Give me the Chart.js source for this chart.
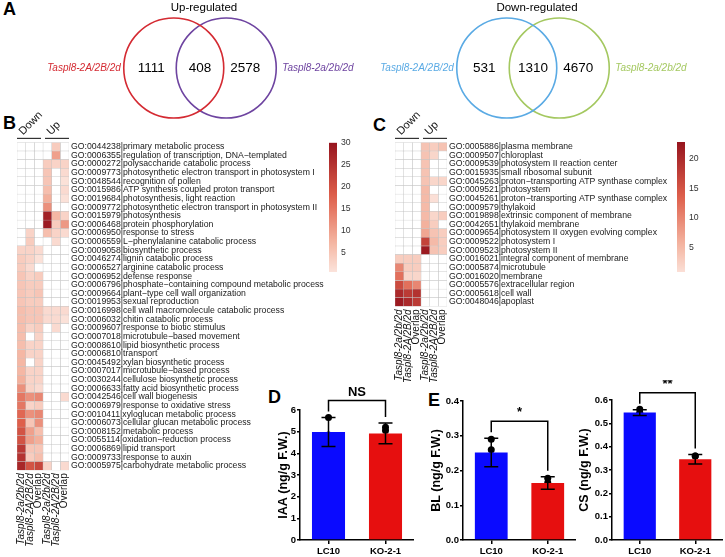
<!DOCTYPE html>
<html>
<head>
<meta charset="utf-8">
<script src="https://cdn.jsdelivr.net/npm/chart.js@4.4.1/dist/chart.umd.min.js"></script>
<style>
html, body { margin: 0; padding: 0; background: #fff; overflow: hidden; width: 725px; height: 557px; }
canvas { position: absolute; }
.lbl { position: absolute; font: bold 18px "Liberation Sans", Arial, sans-serif; line-height: 1; color: #000; }
</style>
</head>
<body>
<div class="lbl" style="left:3px;top:0px">A</div>
<div class="lbl" style="left:3px;top:114px">B</div>
<div class="lbl" style="left:373px;top:116px">C</div>
<div class="lbl" style="left:268px;top:388px">D</div>
<div class="lbl" style="left:428px;top:391px">E</div>

<canvas id="vennUp" style="left:0px;top:0px" width="400" height="136"></canvas>
<canvas id="vennDown" style="left:333px;top:0px" width="400" height="136"></canvas>
<canvas id="heatB" style="left:0px;top:110px" width="330" height="447"></canvas>
<canvas id="barB" style="left:329px;top:132px" width="30" height="150"></canvas>
<canvas id="heatC" style="left:380px;top:110px" width="295" height="280"></canvas>
<canvas id="barC" style="left:677px;top:132px" width="40" height="150"></canvas>
<canvas id="chartIaa" style="left:269px;top:380px" width="145" height="177"></canvas>
<canvas id="chartBl" style="left:422px;top:380px" width="154" height="177"></canvas>
<canvas id="chartCs" style="left:570px;top:380px" width="153" height="177"></canvas>

<script>
// --- Venn (A) ---
const upCounts = [1111, 408, 2578];
const downCounts = [531, 1310, 4670];
const vennNames = ['Taspl8-2A/2B/2d', 'Taspl8-2a/2b/2d'];

// --- heatmaps (B, C) ---
const colLabels = ['Taspl8-2a/2b/2d', 'Taspl8-2A/2B/2d', 'Overlap', 'Taspl8-2a/2b/2d', 'Taspl8-2A/2B/2d', 'Overlap'];
const groupNames = ['Down', 'Up'];

const bpTerms = [
  'GO:0044238|primary metabolic process',
  'GO:0006355|regulation of transcription, DNA\u2212templated',
  'GO:0000272|polysaccharide catabolic process',
  'GO:0009773|photosynthetic electron transport in photosystem I',
  'GO:0048544|recognition of pollen',
  'GO:0015986|ATP synthesis coupled proton transport',
  'GO:0019684|photosynthesis, light reaction',
  'GO:0009772|photosynthetic electron transport in photosystem II',
  'GO:0015979|photosynthesis',
  'GO:0006468|protein phosphorylation',
  'GO:0006950|response to stress',
  'GO:0006559|L\u2212phenylalanine catabolic process',
  'GO:0009058|biosynthetic process',
  'GO:0046274|lignin catabolic process',
  'GO:0006527|arginine catabolic process',
  'GO:0006952|defense response',
  'GO:0006796|phosphate\u2212containing compound metabolic process',
  'GO:0009664|plant\u2212type cell wall organization',
  'GO:0019953|sexual reproduction',
  'GO:0016998|cell wall macromolecule catabolic process',
  'GO:0006032|chitin catabolic process',
  'GO:0009607|response to biotic stimulus',
  'GO:0007018|microtubule\u2212based movement',
  'GO:0008610|lipid biosynthetic process',
  'GO:0006810|transport',
  'GO:0045492|xylan biosynthetic process',
  'GO:0007017|microtubule\u2212based process',
  'GO:0030244|cellulose biosynthetic process',
  'GO:0006633|fatty acid biosynthetic process',
  'GO:0042546|cell wall biogenesis',
  'GO:0006979|response to oxidative stress',
  'GO:0010411|xyloglucan metabolic process',
  'GO:0006073|cellular glucan metabolic process',
  'GO:0008152|metabolic process',
  'GO:0055114|oxidation\u2212reduction process',
  'GO:0006869|lipid transport',
  'GO:0009733|response to auxin',
  'GO:0005975|carbohydrate metabolic process'
];
// columns follow colLabels, 0 = not enriched (white)
const bpValues = [
  [0, 0, 0, 0, 4, 0], [0, 0, 0, 0, 10, 0], [0, 0, 0, 4, 3, 3], [0, 0, 0, 5, 0, 2],
  [0, 0, 0, 5, 0, 1], [0, 0, 0, 6, 0, 2], [0, 0, 0, 8, 0, 1], [0, 0, 0, 12, 0, 0],
  [0, 0, 0, 28, 7, 3], [0, 0, 0, 29, 4, 11], [0, 3, 0, 6, 3, 2], [0, 4, 0, 0, 2, 0],
  [3, 3, 2, 0, 0, 0], [4, 3, 1, 0, 0, 0], [4, 2, 0, 0, 0, 0], [5, 3, 4, 0, 0, 0],
  [5, 4, 4, 0, 0, 0], [5, 4, 5, 0, 0, 0], [5, 4, 4, 0, 0, 0], [6, 5, 5, 2, 2, 2],
  [6, 5, 5, 2, 2, 1], [6, 3, 4, 0, 2, 0], [6, 0, 3, 0, 0, 0], [6, 3, 3, 0, 0, 0],
  [7, 3, 3, 0, 0, 0], [7, 0, 3, 0, 0, 0], [7, 3, 3, 0, 0, 0], [8, 3, 3, 0, 0, 0],
  [12, 3, 2, 0, 0, 0], [15, 12, 13, 0, 0, 2], [15, 3, 4, 0, 0, 0], [17, 12, 13, 0, 0, 0],
  [18, 5, 12, 0, 0, 0], [20, 10, 6, 0, 0, 0], [20, 10, 8, 0, 0, 0], [24, 5, 5, 0, 0, 0],
  [25, 4, 6, 0, 0, 0], [27, 20, 22, 3, 0, 2]
];
const bpTicks = [5, 10, 15, 20, 25, 30];
const bpRange = [0.7, 30];

const ccTerms = [
  'GO:0005886|plasma membrane',
  'GO:0009507|chloroplast',
  'GO:0009539|photosystem II reaction center',
  'GO:0015935|small ribosomal subunit',
  'GO:0045263|proton\u2212transporting ATP synthase complex',
  'GO:0009521|photosystem',
  'GO:0045261|proton\u2212transporting ATP synthase complex',
  'GO:0009579|thylakoid',
  'GO:0019898|extrinsic component of membrane',
  'GO:0042651|thylakoid membrane',
  'GO:0009654|photosystem II oxygen evolving complex',
  'GO:0009522|photosystem I',
  'GO:0009523|photosystem II',
  'GO:0016021|integral component of membrane',
  'GO:0005874|microtubule',
  'GO:0016020|membrane',
  'GO:0005576|extracellular region',
  'GO:0005618|cell wall',
  'GO:0048046|apoplast'
];
const ccValues = [
  [0, 0, 0, 4, 3, 4], [0, 0, 0, 4, 2, 0], [0, 0, 0, 4, 0, 0], [0, 0, 0, 4, 0, 0],
  [0, 0, 0, 4, 2, 2], [0, 0, 0, 5, 0, 0], [0, 0, 0, 5, 1, 0], [0, 0, 0, 5, 0, 0],
  [0, 0, 0, 5, 2, 3], [0, 0, 0, 6, 3, 0], [0, 0, 0, 7, 4, 3], [0, 0, 0, 17, 5, 3],
  [0, 0, 0, 22, 4, 3], [3, 3, 3, 0, 0, 0], [10, 3, 3, 0, 0, 0], [12, 2, 2, 0, 0, 0],
  [16, 12, 10, 0, 0, 0], [20, 18, 19, 0, 0, 0], [22, 20, 18, 0, 0, 0]
];
const ccTicks = [5, 10, 15, 20];
const ccRange = [1, 22.7];

// --- hormone bars (D, E) ---
const genotypes = ['LC10', 'KO-2-1'];
const iaaMean = [4.98, 4.92];
const iaaSd = [0.67, 0.48];
const iaaPoints = [[5.65, 4.85, 4.35], [5.2, 5.05, 4.45]];
const blMean = [0.252, 0.164];
const blSd = [0.041, 0.018];
const blPoints = [[0.29, 0.26, 0.21], [0.178, 0.165, 0.155]];
const csMean = [0.546, 0.346];
const csSd = [0.012, 0.02];
const csPoints = [[0.56, 0.545, 0.54], [0.36, 0.36, 0.325]];

const FONT = '"Liberation Sans", Arial, Helvetica, sans-serif';
Chart.defaults.font.family = FONT;
Chart.defaults.animation = false;
Chart.defaults.layout.autoPadding = false;
Chart.defaults.plugins.legend.display = false;
Chart.defaults.plugins.tooltip.enabled = false;

// kleuren voor de heatmap: licht roze -> donker rood
const heatStops = [
  [0, [252, 232, 225]],
  [0.25, [244, 180, 160]],
  [0.6, [222, 95, 75]],
  [1, [150, 20, 30]]
];
function heatColor(v, vmax) {
  if (!v) return '#ffffff';
  const t = Math.min(v / vmax, 1);
  let i = 0;
  while (i < heatStops.length - 2 && t > heatStops[i + 1][0]) i++;
  const [t0, c0] = heatStops[i], [t1, c1] = heatStops[i + 1];
  const f = (t - t0) / (t1 - t0);
  const c = c0.map((a, k) => Math.round(a + (c1[k] - a) * f));
  return `rgb(${c[0]},${c[1]},${c[2]})`;
}

// A: twee cirkels per venn
function vennChart(id, title, counts, colors) {
  const r = 50;
  new Chart(document.getElementById(id), {
    type: 'scatter',
    data: {
      datasets: colors.map((c, i) => ({
        data: [{ x: i - 0.5, y: 0 }],
        pointRadius: r, pointHoverRadius: r,
        borderColor: c, borderWidth: 1.6,
        backgroundColor: 'rgba(0,0,0,0)',
        clip: false
      }))
    },
    options: {
      responsive: false, events: [],
      layout: { padding: 0, autoPadding: false },
      scales: {
        x: { display: false, min: -3.81, max: 3.81 },
        y: { display: false, min: -1, max: 1 }
      }
    },
    plugins: [{
      id: 'vennText',
      afterDatasetsDraw(chart) {
        const { ctx, scales: { x, y } } = chart;
        const xl = x.getPixelForValue(-0.5), xr = x.getPixelForValue(0.5), cy = y.getPixelForValue(0);
        ctx.save();
        ctx.textBaseline = 'middle';
        ctx.textAlign = 'center';
        ctx.fillStyle = '#000';
        ctx.font = `11.5px ${FONT}`;
        ctx.fillText(title, (xl + xr) / 2 + 4, 8);
        ctx.font = `13.5px ${FONT}`;
        ctx.fillText(counts[0], xl - 0.45 * r, cy);
        ctx.fillText(counts[1], (xl + xr) / 2, cy);
        ctx.fillText(counts[2], xr + 0.38 * r, cy);
        ctx.font = `italic 10px ${FONT}`;
        ctx.fillStyle = colors[0];
        ctx.textAlign = 'right';
        ctx.fillText(vennNames[0], xl - r - 3, cy);
        ctx.fillStyle = colors[1];
        ctx.textAlign = 'left';
        ctx.fillText(vennNames[1], xr + r + 6, cy);
        ctx.restore();
      }
    }]
  });
}

// Down / Up kopjes boven de heatmap
const groupHeader = {
  id: 'groupHeader',
  afterDraw(chart) {
    const { ctx, chartArea, scales: { x } } = chart;
    const y = chartArea.top - 4;
    ctx.save();
    ctx.strokeStyle = '#333';
    ctx.fillStyle = '#111';
    ctx.lineWidth = 1.2;
    ctx.font = `11px ${FONT}`;
    groupNames.forEach((name, g) => {
      const x0 = x.getPixelForValue(g * 3) + (g ? 2 : 0);
      const x1 = x.getPixelForValue(g * 3 + 3) - (g ? 0 : 2);
      ctx.beginPath();
      ctx.moveTo(x0, y);
      ctx.lineTo(x1, y);
      ctx.stroke();
      ctx.save();
      ctx.translate(x0 + 6, y - 3);
      ctx.rotate(-Math.PI / 4);
      ctx.fillText(name, 0, 0);
      ctx.restore();
    });
    ctx.restore();
  }
};

function heatmapChart(id, terms, values, vmax, padLeft, yWidth, xHeight) {
  new Chart(document.getElementById(id), {
    type: 'bar',
    data: {
      labels: terms,
      datasets: colLabels.map((_, c) => ({
        data: terms.map(() => [c, c + 1]),
        backgroundColor: values.map(row => heatColor(row[c], vmax)),
        borderColor: '#c4c4c4',
        borderWidth: 0.5,
        borderSkipped: false,
        barPercentage: 1,
        categoryPercentage: 1,
        grouped: false
      }))
    },
    options: {
      indexAxis: 'y', responsive: false, events: [],
      layout: { padding: { left: padLeft, top: 32.4 } },
      scales: {
        x: {
          type: 'linear', min: 0, max: 6,
          grid: { display: false, drawTicks: false },
          border: { display: false },
          afterBuildTicks: s => { s.ticks = colLabels.map((_, i) => ({ value: i + 0.5 })); },
          afterFit: s => { s.height = xHeight; },
          ticks: {
            autoSkip: false, minRotation: 90, maxRotation: 90, padding: 3, color: '#111',
            callback: (v, i) => colLabels[i],
            font: ctx => ({ family: FONT, size: 10, style: ctx.index % 3 === 2 ? 'normal' : 'italic' })
          }
        },
        y: {
          position: 'right',
          grid: { display: false, drawTicks: false },
          border: { display: false },
          afterFit: s => { s.width = yWidth; },
          ticks: { autoSkip: false, padding: 2, color: '#1a1a1a', font: { size: 8.7 } }
        }
      }
    },
    plugins: [groupHeader]
  });
}

function colorbarChart(id, range, ticks, padTop, padBottom, axisWidth) {
  const [vmin, vmax] = range;
  new Chart(document.getElementById(id), {
    type: 'bar',
    data: {
      labels: [''],
      datasets: [{
        data: [[vmin, vmax]],
        barPercentage: 1, categoryPercentage: 1, borderWidth: 0,
        backgroundColor: ctx => {
          const chart = ctx.chart, ys = chart.scales.y;
          if (!chart.chartArea) return '#fff';
          const g = chart.ctx.createLinearGradient(0, ys.getPixelForValue(vmin), 0, ys.getPixelForValue(vmax));
          for (let k = 0; k <= 20; k++) {
            g.addColorStop(k / 20, heatColor(vmin + (vmax - vmin) * k / 20, vmax));
          }
          return g;
        }
      }]
    },
    options: {
      responsive: false, events: [],
      layout: { padding: { top: padTop, bottom: padBottom } },
      scales: {
        x: { display: false },
        y: {
          position: 'right', min: vmin, max: vmax,
          grid: { display: false, drawTicks: false },
          border: { display: false },
          afterBuildTicks: s => { s.ticks = ticks.map(v => ({ value: v })); },
          afterFit: s => { s.width = axisWidth; },
          ticks: { padding: 4, color: '#333', font: { size: 8.7 } }
        }
      }
    }
  });
}

// foutbalken, haakje en significantie
const errorSig = {
  id: 'errorSig',
  afterDatasetsDraw(chart, args, opts) {
    const { ctx, scales: { x, y } } = chart;
    ctx.save();
    ctx.strokeStyle = '#000';
    ctx.fillStyle = '#000';
    ctx.lineWidth = 1.5;
    const tops = opts.means.map((m, i) => y.getPixelForValue(m + opts.sds[i]));
    opts.means.forEach((m, i) => {
      const cx = x.getPixelForValue(i);
      const bot = y.getPixelForValue(m - opts.sds[i]);
      ctx.beginPath();
      ctx.moveTo(cx, tops[i]); ctx.lineTo(cx, bot);
      ctx.moveTo(cx - 7, tops[i]); ctx.lineTo(cx + 7, tops[i]);
      ctx.moveTo(cx - 7, bot); ctx.lineTo(cx + 7, bot);
      ctx.stroke();
    });
    const by = Math.min(...tops) - 17;
    const x0 = x.getPixelForValue(0), x1 = x.getPixelForValue(1);
    ctx.beginPath();
    ctx.moveTo(x0, tops[0] - 6);
    ctx.lineTo(x0, by);
    ctx.lineTo(x1, by);
    ctx.lineTo(x1, tops[1] - 6);
    ctx.stroke();
    ctx.font = `bold 13px ${FONT}`;
    ctx.textAlign = 'center';
    ctx.textBaseline = 'bottom';
    ctx.fillText(opts.sig, (x0 + x1) / 2, by - 2);
    ctx.restore();
  }
};

function barChart(id, cfg) {
  const axisFont = { size: 9.5, weight: 'bold' };
  new Chart(document.getElementById(id), {
    type: 'bar',
    data: {
      labels: genotypes,
      datasets: [
        {
          data: cfg.means,
          backgroundColor: ['#0a0aff', '#e60f0f'],
          borderWidth: 0, barPercentage: 0.58, categoryPercentage: 1
        },
        {
          type: 'scatter',
          data: cfg.points.flatMap((arr, i) => arr.map(v => ({ x: genotypes[i], y: v }))),
          pointRadius: 3.5, backgroundColor: '#000', borderWidth: 0
        }
      ]
    },
    options: {
      responsive: false, events: [],
      layout: { padding: { top: cfg.padTop, right: 0 } },
      scales: {
        x: {
          grid: { offset: false, drawOnChartArea: false, tickLength: 4, color: '#000', lineWidth: 1.5 },
          border: { color: '#000', width: 1.5 },
          ticks: { color: '#000', font: axisFont, padding: 2 },
          afterFit: s => { s.height = 17; }
        },
        y: {
          min: 0, max: cfg.max,
          grid: { drawOnChartArea: false, tickLength: 3, color: '#000', lineWidth: 1.5 },
          border: { color: '#000', width: 1.5 },
          ticks: { stepSize: cfg.step, color: '#000', font: axisFont, padding: 1, callback: v => v.toFixed(cfg.decimals) },
          title: { display: true, text: cfg.title, color: '#000', font: { size: 12.5, weight: 'bold' }, padding: { top: 7, bottom: 0 } },
          afterFit: s => { s.width = cfg.yWidth; }
        }
      },
      plugins: { errorSig: { means: cfg.means, sds: cfg.sds, sig: cfg.sig } }
    },
    plugins: [errorSig]
  });
}

vennChart('vennUp', 'Up-regulated', upCounts, ['#d42a32', '#6e44a0']);
vennChart('vennDown', 'Down-regulated', downCounts, ['#5aaae4', '#a4c860']);

heatmapChart('heatB', bpTerms, bpValues, bpRange[1], 17, 261, 86.7);
colorbarChart('barB', bpRange, bpTicks, 10.7, 10, 22);
heatmapChart('heatC', ccTerms, ccValues, ccRange[1], 15, 228, 83.6);
colorbarChart('barC', ccRange, ccTicks, 10, 10, 32);

barChart('chartIaa', { means: iaaMean, sds: iaaSd, points: iaaPoints, title: 'IAA (ng/g F.W.)', max: 6, step: 1, decimals: 0, sig: 'NS', yWidth: 31, padTop: 30 });
barChart('chartBl', { means: blMean, sds: blSd, points: blPoints, title: 'BL (ng/g F.W.)', max: 0.4, step: 0.1, decimals: 1, sig: '*', yWidth: 41, padTop: 21 });
barChart('chartCs', { means: csMean, sds: csSd, points: csPoints, title: 'CS (ng/g F.W.)', max: 0.6, step: 0.1, decimals: 1, sig: '**', yWidth: 42, padTop: 20 });
</script>
</body>
</html>
